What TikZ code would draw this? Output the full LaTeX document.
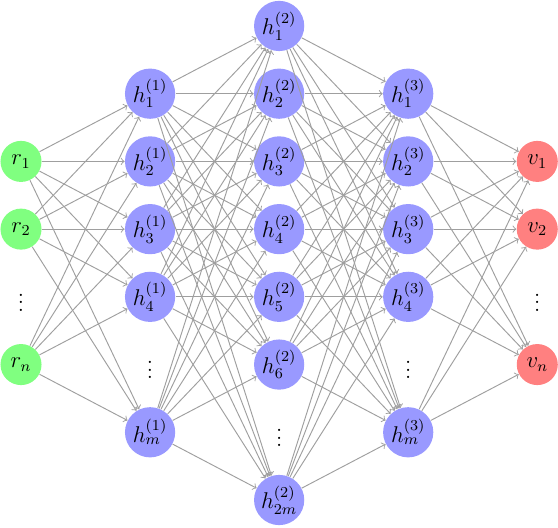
\documentclass[tikz,border=0pt]{standalone}
\usepackage{amsmath,amssymb}
\usetikzlibrary{calc,positioning}
\tikzset{
 nn input/.style={circle,fill=green!50,minimum size=0.76cm,inner sep=0pt,font=\large},
 nn hidden/.style={circle,fill=blue!40,minimum size=0.93cm,inner sep=0pt,font=\large},
 nn output/.style={circle,fill=red!50,minimum size=0.76cm,inner sep=0pt,font=\large},
 nn dots/.style={inner sep=0pt,font=\large},
 nn edge/.style={->,gray!75,line width=0.5pt}
}

\begin{document}
\begin{tikzpicture}[x=2.39cm,y=-1.254cm]
 \useasboundingbox (-0.389cm,0.481cm) rectangle (9.944cm,-9.296cm);
 % input layer
 \node[nn input] (r1) at (0,2) {$r_1$};
 \node[nn input] (r2) at (0,3) {$r_2$};
 \node[nn dots] (rd) at (0,4) {$\vdots$};
 \node[nn input] (rn) at (0,5) {$r_n$};
 % first hidden layer
 \foreach \i in {1,...,4} \node[nn hidden] (a\i) at (1,\i) {$h^{(1)}_{\i}$};
 \node[nn dots] (ad) at (1,5) {$\vdots$};
 \node[nn hidden] (am) at (1,6) {$h^{(1)}_{m}$};
 % second hidden layer
 \foreach \i in {1,...,6} \node[nn hidden] (b\i) at (2,\i-1) {$h^{(2)}_{\i}$};
 \node[nn dots] (bd) at (2,6) {$\vdots$};
 \node[nn hidden] (b2m) at (2,7) {$h^{(2)}_{2m}$};
 % third hidden layer
 \foreach \i in {1,...,4} \node[nn hidden] (c\i) at (3,\i) {$h^{(3)}_{\i}$};
 \node[nn dots] (cd) at (3,5) {$\vdots$};
 \node[nn hidden] (cm) at (3,6) {$h^{(3)}_{m}$};
 % output layer
 \node[nn output] (v1) at (4,2) {$v_1$};
 \node[nn output] (v2) at (4,3) {$v_2$};
 \node[nn dots] (vd) at (4,4) {$\vdots$};
 \node[nn output] (vn) at (4,5) {$v_n$};

 \foreach \s in {r1,r2,rn} \foreach \t in {a1,a2,a3,a4,am}
   \draw[nn edge] (\s)--(\t);
 \foreach \s in {a1,a2,a3,a4,am} \foreach \t in {b1,b2,b3,b4,b5,b6,b2m}
   \draw[nn edge] (\s)--(\t);
 \foreach \s in {b1,b2,b3,b4,b5,b6,b2m} \foreach \t in {c1,c2,c3,c4,cm}
   \draw[nn edge] (\s)--(\t);
 \foreach \s in {c1,c2,c3,c4,cm} \foreach \t in {v1,v2,vn}
   \draw[nn edge] (\s)--(\t);
\end{tikzpicture}
\end{document}
